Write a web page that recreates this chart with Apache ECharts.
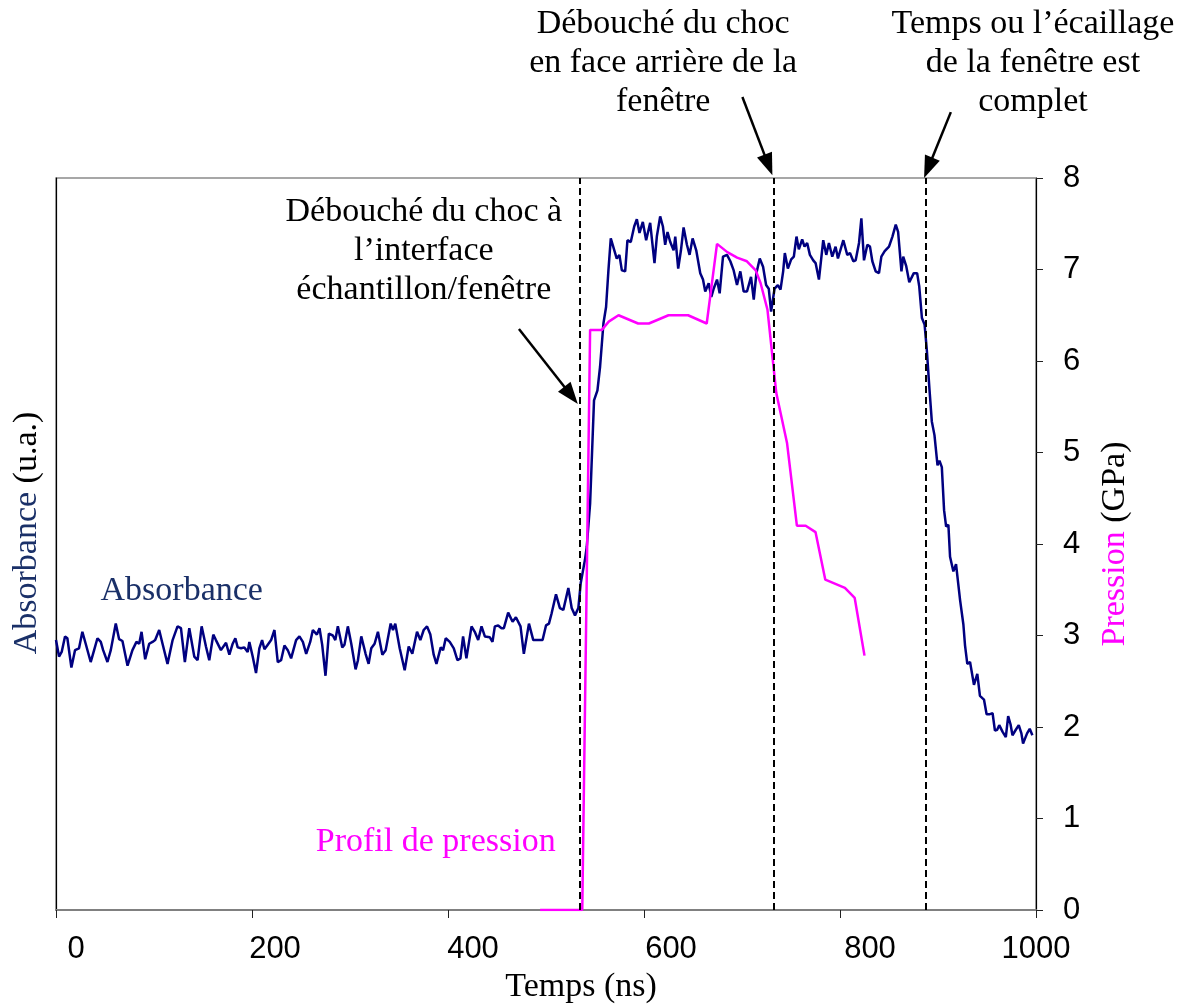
<!DOCTYPE html>
<html>
<head>
<meta charset="utf-8">
<script src="https://cdn.jsdelivr.net/npm/echarts@6/dist/echarts.min.js"></script>
<style>
html,body{margin:0;padding:0;background:#fff;}
#chart{width:1183px;height:1004px;}
</style>
</head>
<body>
<div id="chart"></div>
<script>
// ---- Data (time in ns; absorbance in arbitrary units drawn on the 0-8 scale; pressure in GPa) ----
const absT = [0,3.1,5.8,9.2,11.6,15.7,19.4,23.5,26.9,30.3,35.4,38.9,42.3,45.7,48.1,52.5,55.9,61,64.4,67.8,73,78,82.1,84.9,87.3,91,95.1,98.5,101.2,105.3,108.7,113.8,119,124,127.5,131.5,136,141.1,144.5,148.6,153,156.4,160.5,163.2,168.3,173.5,176.9,180.3,183,185.4,188.8,192.2,195.6,197.3,200.7,204.1,207.5,210.3,212.7,216.1,219.5,222.9,226.3,229.7,233.1,236.5,239.9,245,248.4,251.9,255.3,259.4,262.1,266.2,268.9,271.6,275,278.4,282.5,285,287.6,292.1,294.4,297.8,301.3,305.7,308.1,311.5,313.2,315.9,319,321.7,325.1,328.5,333,336.4,341.5,343.9,346.2,350.7,355.8,359.9,363.6,368.4,371.8,375.2,378.6,382,385.4,388.2,392.6,395,397.7,401.8,405.9,409.6,412.7,415.4,418.8,424,427.3,430.8,434.2,437.6,442.7,445.4,447.8,451.2,454.6,457,461.4,465.9,469.3,474,477.4,482.6,487,490.4,496.5,500,503,505.7,510.2,514.2,517.7,522.8,526.2,529.6,533,535.4,539.8,541.6,545,549,552.5,555.2,558.6,561.3,563.7,566.1,568.1,572.2,574.9,577.4,580.8,583.1,586.5,590,592.7,595.4,598.8,602.2,606.3,610.7,613.1,616.5,619.3,621.6,624,626.8,630.2,631.9,634.9,637.7,640.4,643.8,646.5,649.6,653.3,657.4,660.2,662.5,666,668.7,671.1,674.5,677.2,680.6,684.7,688.1,691.5,694.9,698.3,701.7,705.1,709.2,712,714.7,718.1,721.5,724.6,727.3,729.7,733.2,736.6,739.3,742,743.7,746.8,750.2,752.9,755.6,758,761.4,763.8,766.5,769.3,772.7,775.1,778.5,782.9,786,788.7,792.1,795.5,797.9,803.4,807.4,810.2,813.6,816,819.4,821.8,824.5,827.9,830.6,833,836.4,839.8,842.2,845.6,850,853.5,856.9,859.3,862.7,864.5,867.5,870.7,872.4,875.3,878.7,880.8,883.6,886.3,888.6,891.3,893.7,896.4,899.5,901.5,903.9,906.2,908.3,910.6,912.3,915.7,918.4,922.5,925.9,927.6,929.9,932.7,936.7,940.1,942.8,946.9,949.6,953,955.7,958.1,960.4,962.5,965.8,969.2,971.6,974,976,979.4,982.4,985.1,986.8,988.5,990.9,993.6,996.3];
const absV = [2.95,2.77,2.82,2.99,2.97,2.65,2.84,2.86,3.04,2.91,2.71,2.84,2.97,2.93,2.84,2.71,2.84,3.13,2.96,2.94,2.67,2.84,2.93,2.91,3.04,2.74,2.91,2.93,2.95,3.06,2.91,2.69,2.95,3.10,3.08,2.71,3.08,2.77,2.73,3.10,2.88,2.73,3.01,2.95,2.84,2.92,2.79,2.91,2.97,2.87,2.86,2.87,2.82,2.93,2.77,2.59,2.86,2.95,2.85,2.90,2.95,3.06,2.71,2.73,2.89,2.84,2.75,2.95,2.99,2.93,2.80,2.93,3.06,3.01,3.08,2.90,2.56,3.02,3.00,2.95,3.10,2.87,2.90,3.10,2.91,2.63,2.73,2.99,2.97,2.80,2.69,2.86,2.91,3.04,2.79,2.84,3.13,3.06,3.13,2.86,2.62,2.88,2.80,3.04,2.95,3.06,3.10,3.01,2.79,2.69,2.87,2.84,2.97,2.93,2.86,2.73,2.75,2.99,2.75,3.10,3.04,2.95,3.10,2.99,2.98,2.93,3.10,3.11,3.08,3.08,3.25,3.15,3.20,3.10,2.80,3.13,2.95,2.95,2.95,3.11,3.13,3.24,3.45,3.30,3.28,3.52,3.30,3.22,3.30,3.57,3.83,3.97,4.44,5.57,5.68,5.94,6.41,6.59,6.99,7.34,7.36,7.12,7.16,6.99,6.98,7.32,7.30,7.47,7.55,7.40,7.52,7.32,7.51,7.07,7.36,7.58,7.47,7.27,7.41,7.30,7.21,7.36,7.01,7.21,7.46,7.27,7.16,7.34,7.21,6.96,6.89,6.76,6.85,6.70,6.79,6.89,6.74,7.14,7.16,7.09,6.99,6.83,6.98,6.76,6.76,6.92,6.67,6.96,7.12,7.03,6.83,6.79,6.54,6.79,6.83,6.78,6.98,7.18,7.01,7.11,7.14,7.36,7.22,7.33,7.25,7.29,7.16,7.10,7.07,6.89,7.32,7.16,7.29,7.14,7.25,7.12,7.32,7.16,7.18,7.09,7.10,7.29,7.56,7.10,7.27,7.25,7.09,6.98,6.96,7.14,7.20,7.25,7.36,7.49,7.41,6.98,7.14,7.04,6.86,6.84,6.96,6.96,6.82,6.47,6.40,6.12,5.69,5.34,5.19,4.86,4.91,4.84,4.37,4.19,4.21,3.86,3.70,3.78,3.39,3.12,2.89,2.69,2.71,2.46,2.58,2.34,2.30,2.14,2.14,2.15,1.96,1.97,2.02,1.95,1.89,2.12,2.03,1.91,1.97,2.02,1.93,1.82,1.83,1.93,1.98,1.91];

const presT = [494,537,545,557,564,574,594,605,625,645,664,674.5,685,695,705,714,719,726,735,746,756,765,775,785,805,815,825];
const presV = [0,0,6.34,6.34,6.43,6.50,6.41,6.41,6.50,6.50,6.41,7.28,7.19,7.13,7.09,6.99,6.85,6.56,5.65,5.10,4.20,4.20,4.13,3.61,3.52,3.41,2.78];

const eventTimes = [534, 732.4, 887.5];   // dashed markers (ns)
const xTicks = [0, 200, 400, 600, 800, 1000];
const yTicks = [0, 1, 2, 3, 4, 5, 6, 7, 8];

// ---- Styles ----
const SERIF = '"Liberation Serif", "Times New Roman", serif';
const SANS = '"Liberation Sans", Arial, sans-serif';
const NAVY = '#000080';
const NAVY_TEXT = '#1a3068';
const MAGENTA = '#ff00ff';
const xLabelShift = {0: 20, 200: 23, 400: 25, 600: 27, 800: 30, 1000: 0};

const xRich = {};
xTicks.forEach(v => {
  xRich['s' + v] = {fontSize: 31, fontFamily: SANS, color: '#000', padding: [0, 0, 0, 2 * xLabelShift[v]]};
});

const chart = echarts.init(document.getElementById('chart'), null, {renderer: 'canvas'});

const option = {
  animation: false,
  backgroundColor: '#fff',
  grid: {
    left: 56, right: 147, top: 178, bottom: 94,
    show: true, borderColor: '#8a8a8a', borderWidth: 1.5,
    containLabel: false, outerBoundsMode: 'none'
  },
  xAxis: {
    type: 'value', min: 0, max: 1000, interval: 200,
    splitLine: {show: false},
    axisLine: {show: true, lineStyle: {color: '#808080', width: 2}},
    axisTick: {show: true, inside: false, length: 8, lineStyle: {color: '#222', width: 1}},
    axisLabel: {
      margin: 24,
      formatter: v => '{s' + v + '|' + v + '}',
      rich: xRich
    },
    name: '{t|Temps (ns)}',
    nameLocation: 'middle',
    nameGap: 58,
    nameTextStyle: {
      rich: {t: {fontSize: 34, fontFamily: SERIF, color: '#000', padding: [0, 0, 0, 70]}}
    }
  },
  yAxis: [
    {
      type: 'value', min: 0, max: 8, interval: 1, position: 'left',
      splitLine: {show: false},
      axisLine: {show: true, lineStyle: {color: '#000', width: 1.2}},
      axisTick: {show: false},
      axisLabel: {show: false},
      name: '{a|Absorbance }{b|(u.a.)}',
      nameLocation: 'middle',
      nameRotate: 90,
      nameGap: 12,
      nameTextStyle: {
        rich: {
          a: {fontSize: 34, fontFamily: SERIF, color: NAVY_TEXT, padding: [0, 0, 0, 22]},
          b: {fontSize: 34, fontFamily: SERIF, color: '#000'}
        }
      }
    },
    {
      type: 'value', min: 0, max: 8, interval: 1, position: 'right',
      splitLine: {show: false},
      axisLine: {show: true, lineStyle: {color: '#000', width: 1.2}},
      axisTick: {show: true, inside: false, length: 7, lineStyle: {color: '#222', width: 1}},
      axisLabel: {show: true, margin: 27, fontSize: 31, fontFamily: SANS, color: '#000',
        formatter: v => (yTicks.indexOf(v) >= 0 ? String(v) : '')},
      name: '{a|Pression }{b|(GPa)}',
      nameLocation: 'middle',
      nameRotate: 90,
      nameGap: 62,
      nameTextStyle: {
        rich: {
          a: {fontSize: 34, fontFamily: SERIF, color: MAGENTA},
          b: {fontSize: 34, fontFamily: SERIF, color: '#000'}
        }
      }
    }
  ],
  series: [
    {
      name: 'Absorbance', type: 'line', xAxisIndex: 0, yAxisIndex: 0,
      data: absT.map((t, i) => [t, absV[i]]),
      showSymbol: false, symbol: 'none',
      lineStyle: {color: NAVY, width: 2.5},
      z: 3,
      markLine: {
        silent: true, symbol: ['none', 'none'],
        label: {show: false},
        lineStyle: {color: '#000', width: 2, type: [7, 4]},
        data: eventTimes.map(t => ({xAxis: t}))
      }
    },
    {
      name: 'Pression', type: 'line', xAxisIndex: 0, yAxisIndex: 1,
      data: presT.map((t, i) => [t, presV[i]]),
      showSymbol: false, symbol: 'none',
      lineStyle: {color: MAGENTA, width: 2.5},
      z: 4
    }
  ]
};

chart.setOption(option);

// ---- Annotations (placed in data space, converted to pixels) ----
function px(t, v) { return chart.convertToPixel({xAxisIndex: 0, yAxisIndex: 1}, [t, v]); }

const texts = [
  {t: 375.3, v: 7.84, text: 'Débouché du choc à\nl’interface\néchantillon/fenêtre', color: '#000', va: 'top'},
  {t: 619.6, v: 9.90, text: 'Débouché du choc\nen face arrière de la\nfenêtre', color: '#000', va: 'top'},
  {t: 996.9, v: 9.90, text: 'Temps ou l’écaillage\nde la fenêtre est\ncomplet', color: '#000', va: 'top'},
  {t: 387.5, v: 0.74, text: 'Profil de pression', color: MAGENTA, va: 'middle'},
  {t: 128.3, v: 3.49, text: 'Absorbance', color: NAVY_TEXT, va: 'middle'}
];

const arrows = [
  {from: [472.4, 6.35], to: [532.5, 5.53]},
  {from: [700.4, 8.885], to: [731.0, 8.03]},
  {from: [913.1, 8.72], to: [885.8, 8.0]}
];

const graphic = [];
texts.forEach(a => {
  const p = px(a.t, a.v);
  graphic.push({
    type: 'text', x: p[0], y: p[1], z: 100,
    style: {text: a.text, fontSize: 34, fontFamily: SERIF, fill: a.color,
      align: 'center', verticalAlign: a.va, lineHeight: 39}
  });
});
arrows.forEach(a => {
  const s = px(a.from[0], a.from[1]);
  const e = px(a.to[0], a.to[1]);
  const dx = e[0] - s[0], dy = e[1] - s[1];
  const len = Math.sqrt(dx * dx + dy * dy);
  const ux = dx / len, uy = dy / len;
  const nx = -uy, ny = ux;
  const L = 22, W = 8;
  const bx = e[0] - ux * L, by = e[1] - uy * L;
  graphic.push({
    type: 'line', z: 100,
    shape: {x1: s[0], y1: s[1], x2: bx + ux * 2, y2: by + uy * 2},
    style: {stroke: '#000', lineWidth: 2.5}
  });
  graphic.push({
    type: 'polygon', z: 100,
    shape: {points: [[e[0], e[1]], [bx + nx * W, by + ny * W], [bx - nx * W, by - ny * W]]},
    style: {fill: '#000'}
  });
});
chart.setOption({graphic: graphic});
</script>
</body>
</html>
